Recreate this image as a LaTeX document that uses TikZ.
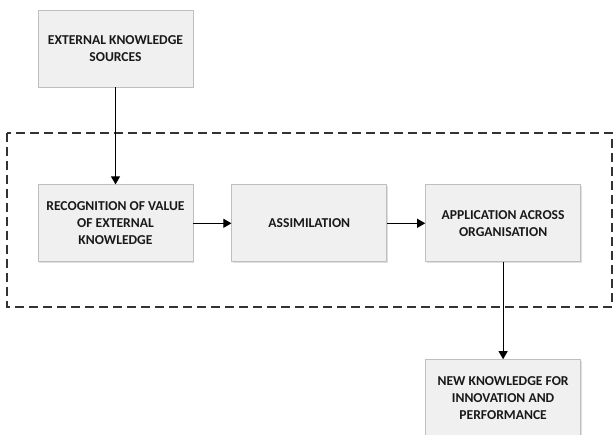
\documentclass[tikz,border=0pt]{standalone}
\usepackage{fontspec}
\setmainfont{Carlito}
\usetikzlibrary{arrows,positioning,shadows}

\tikzset{
  stage/.style={draw=black!25, fill=black!6, line width=0.8pt, minimum width=155pt, minimum height=77pt,
    align=center, font=\bfseries\fontsize{13.6}{17}\selectfont, text=black!90,
    drop shadow={shadow xshift=1pt, shadow yshift=-1pt, opacity=0.25}},
  flow/.style={-triangle 60, line width=1.2pt, black},
  firm/.style={dashed, dash pattern=on 9pt off 5pt, line width=1.6pt, black!80}
}

\begin{document}
\begin{tikzpicture}[x=1pt,y=-1pt]

  \useasboundingbox (0,0) rectangle (615,435);

  % firm boundary
  \coordinate (FA) at (7,133); \coordinate (FB) at (612,307);
  \draw[firm] (FA) rectangle (FB);

  \node[stage] (ext) at (115.5,48.5) {EXTERNAL KNOWLEDGE\\SOURCES};
  \node[stage, below=97pt of ext] (rec) {RECOGNITION OF VALUE\\OF EXTERNAL\\KNOWLEDGE};
  \node[stage, right=38pt of rec] (ass) {ASSIMILATION};
  \node[stage, right=38pt of ass] (app) {APPLICATION ACROSS\\ORGANISATION};
  \node[stage, below=97pt of app] (new) {NEW KNOWLEDGE FOR\\INNOVATION AND\\PERFORMANCE};

  \draw[flow] (ext) -- (rec);
  \draw[flow] (rec) -- (ass);
  \draw[flow] (ass) -- (app);
  \draw[flow] (app) -- (new);

\end{tikzpicture}
\end{document}
